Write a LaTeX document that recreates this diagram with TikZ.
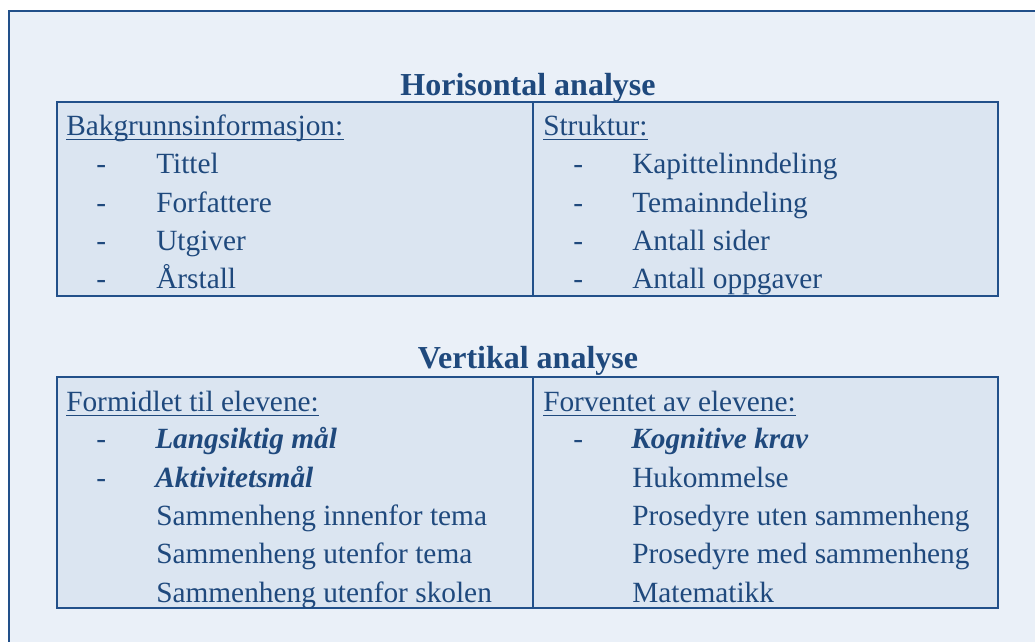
\documentclass[tikz,border=0pt]{standalone}
\usepackage{fontspec}
\setmainfont{Liberation Serif}
\definecolor{tx}{HTML}{1F497D}
\definecolor{frm}{HTML}{22508A}
\definecolor{bgout}{HTML}{EAF0F8}
\definecolor{bgtab}{HTML}{DBE5F1}
\begin{document}
\begin{tikzpicture}[x=0.75pt,y=-0.75pt,
  txt/.style={inner sep=0pt, anchor=base west, text=tx, font=\fontsize{22}{26}\selectfont},
  bi/.style={txt, font=\fontsize{22}{26}\selectfont\bfseries\itshape},
  ttl/.style={inner sep=0pt, anchor=base, text=tx, font=\fontsize{24}{28}\selectfont\bfseries},
  tab/.style={draw=frm, line width=1.6pt, fill=bgtab},
  ul/.style={draw=tx, line width=1pt},
  sep/.style={draw=frm, line width=1.6pt}]
\useasboundingbox (0,0) rectangle (1035,642);
\fill[white] (0,0) rectangle (1035,642);
\fill[bgout] (9,11) rectangle (1035,642);
\draw[frm, line width=2.2pt] (1040,11) -- (9,11) -- (9,650);

% Horisontal analyse
\node[ttl] (t1) at (528,95) {Horisontal analyse};
\draw[tab] (57,102) rectangle (998,296);
\coordinate (d1a) at (533,102);
\coordinate (d1b) at (533,296);
\draw[sep] (d1a) -- (d1b);

\node[txt] (h1) at (66,135) {Bakgrunnsinformasjon:};
\draw[ul] ([yshift=-3.2pt]h1.base west) -- ([yshift=-3.2pt]h1.base east);
\node[txt] (a1d) at (96,173) {-};
\node[txt] (a1) at (156,173) {Tittel};
\node[txt] (a2d) at (96,212) {-};
\node[txt] (a2) at (156,212) {Forfattere};
\node[txt] (a3d) at (96,250) {-};
\node[txt] (a3) at (156,250) {Utgiver};
\node[txt] (a4d) at (96,288) {-};
\node[txt] (a4) at (156,288) {Årstall};

\node[txt] (h2) at (543,135) {Struktur:};
\draw[ul] ([yshift=-3.2pt]h2.base west) -- ([yshift=-3.2pt]h2.base east);
\node[txt] (b1d) at (573,173) {-};
\node[txt] (b1) at (632,173) {Kapittelinndeling};
\node[txt] (b2d) at (573,212) {-};
\node[txt] (b2) at (632,212) {Temainndeling};
\node[txt] (b3d) at (573,250) {-};
\node[txt] (b3) at (632,250) {Antall sider};
\node[txt] (b4d) at (573,288) {-};
\node[txt] (b4) at (632,288) {Antall oppgaver};

% Vertikal analyse
\node[ttl] (t2) at (528,368) {Vertikal analyse};
\draw[tab] (57,377) rectangle (998,608);
\coordinate (d2a) at (533,377);
\coordinate (d2b) at (533,608);
\draw[sep] (d2a) -- (d2b);

\node[txt] (h3) at (66,411) {Formidlet til elevene:};
\draw[ul] ([yshift=-3.2pt]h3.base west) -- ([yshift=-3.2pt]h3.base east);
\node[txt] (c1d) at (96,448) {-};
\node[bi] (c1) at (155,448) {Langsiktig mål};
\node[txt] (c2d) at (96,487) {-};
\node[bi] (c2) at (155,487) {Aktivitetsmål};
\node[txt] (c3) at (156,525) {Sammenheng innenfor tema};
\node[txt] (c4) at (156,563) {Sammenheng utenfor tema};
\node[txt] (c5) at (156,602) {Sammenheng utenfor skolen};

\node[txt] (h4) at (543,411) {Forventet av elevene:};
\draw[ul] ([yshift=-3.2pt]h4.base west) -- ([yshift=-3.2pt]h4.base east);
\node[txt] (e1d) at (573,448) {-};
\node[bi] (e1) at (631,448) {Kognitive krav};
\node[txt] (e2) at (632,487) {Hukommelse};
\node[txt] (e3) at (632,525) {Prosedyre uten sammenheng};
\node[txt] (e4) at (632,563) {Prosedyre med sammenheng};
\node[txt] (e5) at (632,602) {Matematikk};
\end{tikzpicture}
\end{document}
